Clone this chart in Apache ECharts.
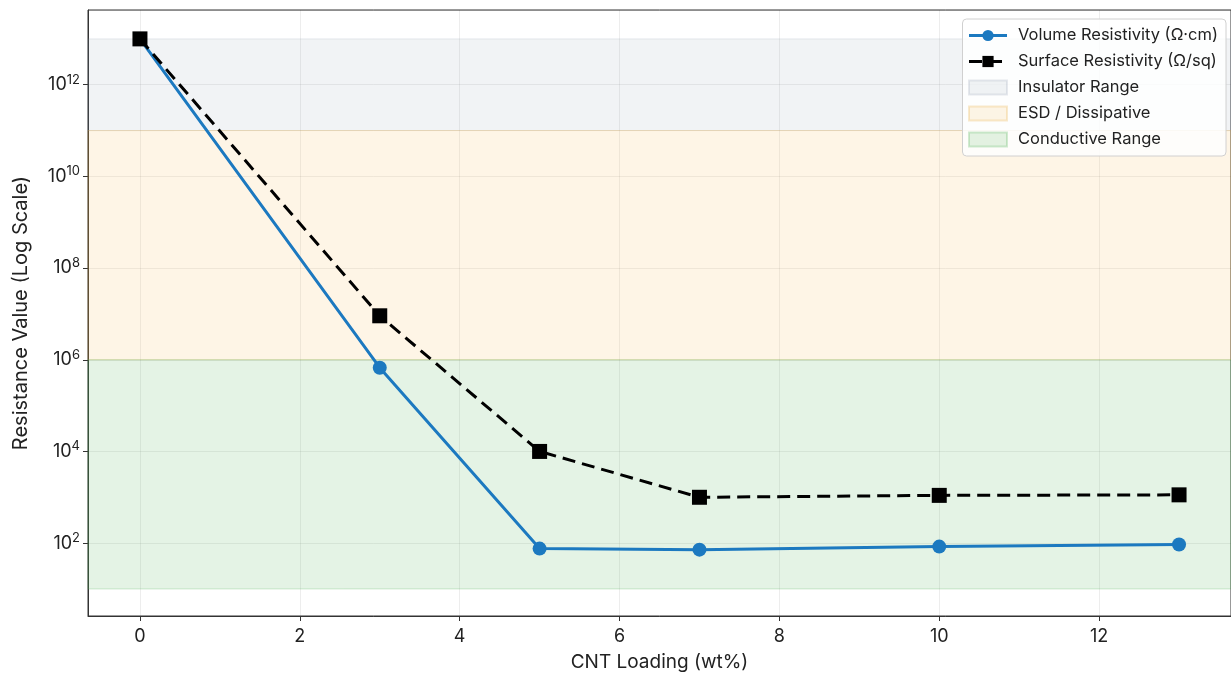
<!DOCTYPE html>
<html>
<head>
<meta charset="utf-8">
<title>CNT Loading vs Resistance</title>
<script src="https://cdn.jsdelivr.net/npm/echarts@6/dist/echarts.min.js"></script>
<style>
  html, body { margin: 0; padding: 0; background: #fff; }
  #chart { width: 1231px; height: 677px; }
</style>
</head>
<body>
<div id="chart"></div>
<script>
// CNT loading (wt%)
const loading = [0, 3, 5, 7, 10, 13]
// resistance values
const volumeRes = [1e13, 6.7e5, 76, 72, 84, 93]
const surfaceRes = [1e13, 9.1e6, 1e4, 1000, 1100, 1130]

// shaded ranges
const bandNames = ['Insulator Range', 'ESD / Dissipative', 'Conductive Range']
const bandLow = [1e11, 1e6, 1e1]
const bandHigh = [1e13, 1e11, 1e6]
const bandColors = ['rgba(120,135,160,0.10)', 'rgba(245,176,65,0.13)', 'rgba(76,175,80,0.15)']
const bandEdges = ['rgba(120,135,160,0.18)', 'rgba(230,170,60,0.25)', 'rgba(76,175,80,0.25)']

// axis limits (x in wt%, y in decades)
const xMin = -0.65
const xMax = 13.65
const yMinExp = 0.41
const yMaxExp = 13.63

const FONT = 'Inter'
const TEXT = '#222'

const toLog = v => Math.log10(v)

const chart = echarts.init(document.getElementById('chart'))

const bandSeries = bandNames.map((name, i) => ({
  name: name,
  type: 'line',
  data: [],
  itemStyle: { color: bandColors[i], borderColor: bandEdges[i], borderWidth: 1 },
  markArea: {
    silent: true,
    itemStyle: { color: bandColors[i], borderColor: bandEdges[i], borderWidth: 1 },
    data: [[{ yAxis: toLog(bandLow[i]) }, { yAxis: toLog(bandHigh[i]) }]]
  },
  z: 1
}))

chart.setOption({
  animation: false,
  textStyle: { fontFamily: FONT, color: TEXT },
  grid: {
    left: 88,
    right: -2,
    top: 10,
    bottom: 60,
    show: true,
    borderColor: '#333',
    borderWidth: 1,
    backgroundColor: 'transparent'
  },
  legend: {
    right: 5,
    top: 19,
    orient: 'vertical',
    backgroundColor: 'rgba(255,255,255,0.85)',
    borderColor: '#d0d0d0',
    borderWidth: 1,
    borderRadius: 4,
    padding: [8, 8, 8, 5],
    itemWidth: 38,
    itemHeight: 14,
    itemGap: 9,
    lineStyle: { width: 3 },
    textStyle: { fontFamily: FONT, fontSize: 16.5, color: TEXT, padding: [0, 0, 0, 6] },
    data: [
      { name: 'Volume Resistivity (Ω·cm)' },
      { name: 'Surface Resistivity (Ω/sq)' },
      { name: bandNames[0], icon: 'rect' },
      { name: bandNames[1], icon: 'rect' },
      { name: bandNames[2], icon: 'rect' }
    ]
  },
  xAxis: {
    type: 'value',
    min: xMin,
    max: xMax,
    splitNumber: 7,
    name: 'CNT Loading (wt%)',
    nameLocation: 'middle',
    nameGap: 37,
    nameTextStyle: { fontSize: 19, color: TEXT },
    axisLine: { show: true, onZero: false, lineStyle: { color: '#333', width: 1 } },
    axisTick: { show: true, length: 5, lineStyle: { color: '#333' } },
    axisLabel: {
      fontSize: 18,
      color: TEXT,
      margin: 12,
      showMinLabel: false,
      showMaxLabel: false,
      formatter: v => (Number.isInteger(v) ? String(v) : '')
    },
    splitLine: { show: true, lineStyle: { color: 'rgba(0,0,0,0.07)', width: 1 } }
  },
  yAxis: {
    type: 'value',
    min: yMinExp,
    max: yMaxExp,
    splitNumber: 7,
    name: 'Resistance Value (Log Scale)',
    nameLocation: 'middle',
    nameGap: 57,
    nameTextStyle: { fontSize: 20, color: TEXT },
    axisLine: { show: true, onZero: false, lineStyle: { color: '#333', width: 1 } },
    axisTick: { show: true, length: 5, lineStyle: { color: '#333' } },
    axisLabel: {
      color: TEXT,
      margin: 8,
      showMinLabel: false,
      showMaxLabel: false,
      formatter: v => (Number.isInteger(v) ? '{b|10}{s|' + v + '}' : ''),
      rich: {
        b: { fontSize: 18, fontFamily: FONT, color: TEXT },
        s: { fontSize: 13, fontFamily: FONT, color: TEXT, padding: [0, 0, 10, 0] }
      }
    },
    splitLine: { show: true, lineStyle: { color: 'rgba(0,0,0,0.07)', width: 1 } }
  },
  series: [
    ...bandSeries,
    {
      name: 'Volume Resistivity (Ω·cm)',
      type: 'line',
      data: loading.map((x, i) => [x, toLog(volumeRes[i])]),
      symbol: 'circle',
      symbolSize: 14,
      lineStyle: { color: '#1c79c0', width: 3 },
      itemStyle: { color: '#1c79c0' },
      z: 3
    },
    {
      name: 'Surface Resistivity (Ω/sq)',
      type: 'line',
      data: loading.map((x, i) => [x, toLog(surfaceRes[i])]),
      symbol: 'rect',
      symbolSize: 15,
      lineStyle: { color: '#000', width: 3, type: [13, 7] },
      itemStyle: { color: '#000' },
      z: 4
    }
  ]
})
</script>
</body>
</html>
